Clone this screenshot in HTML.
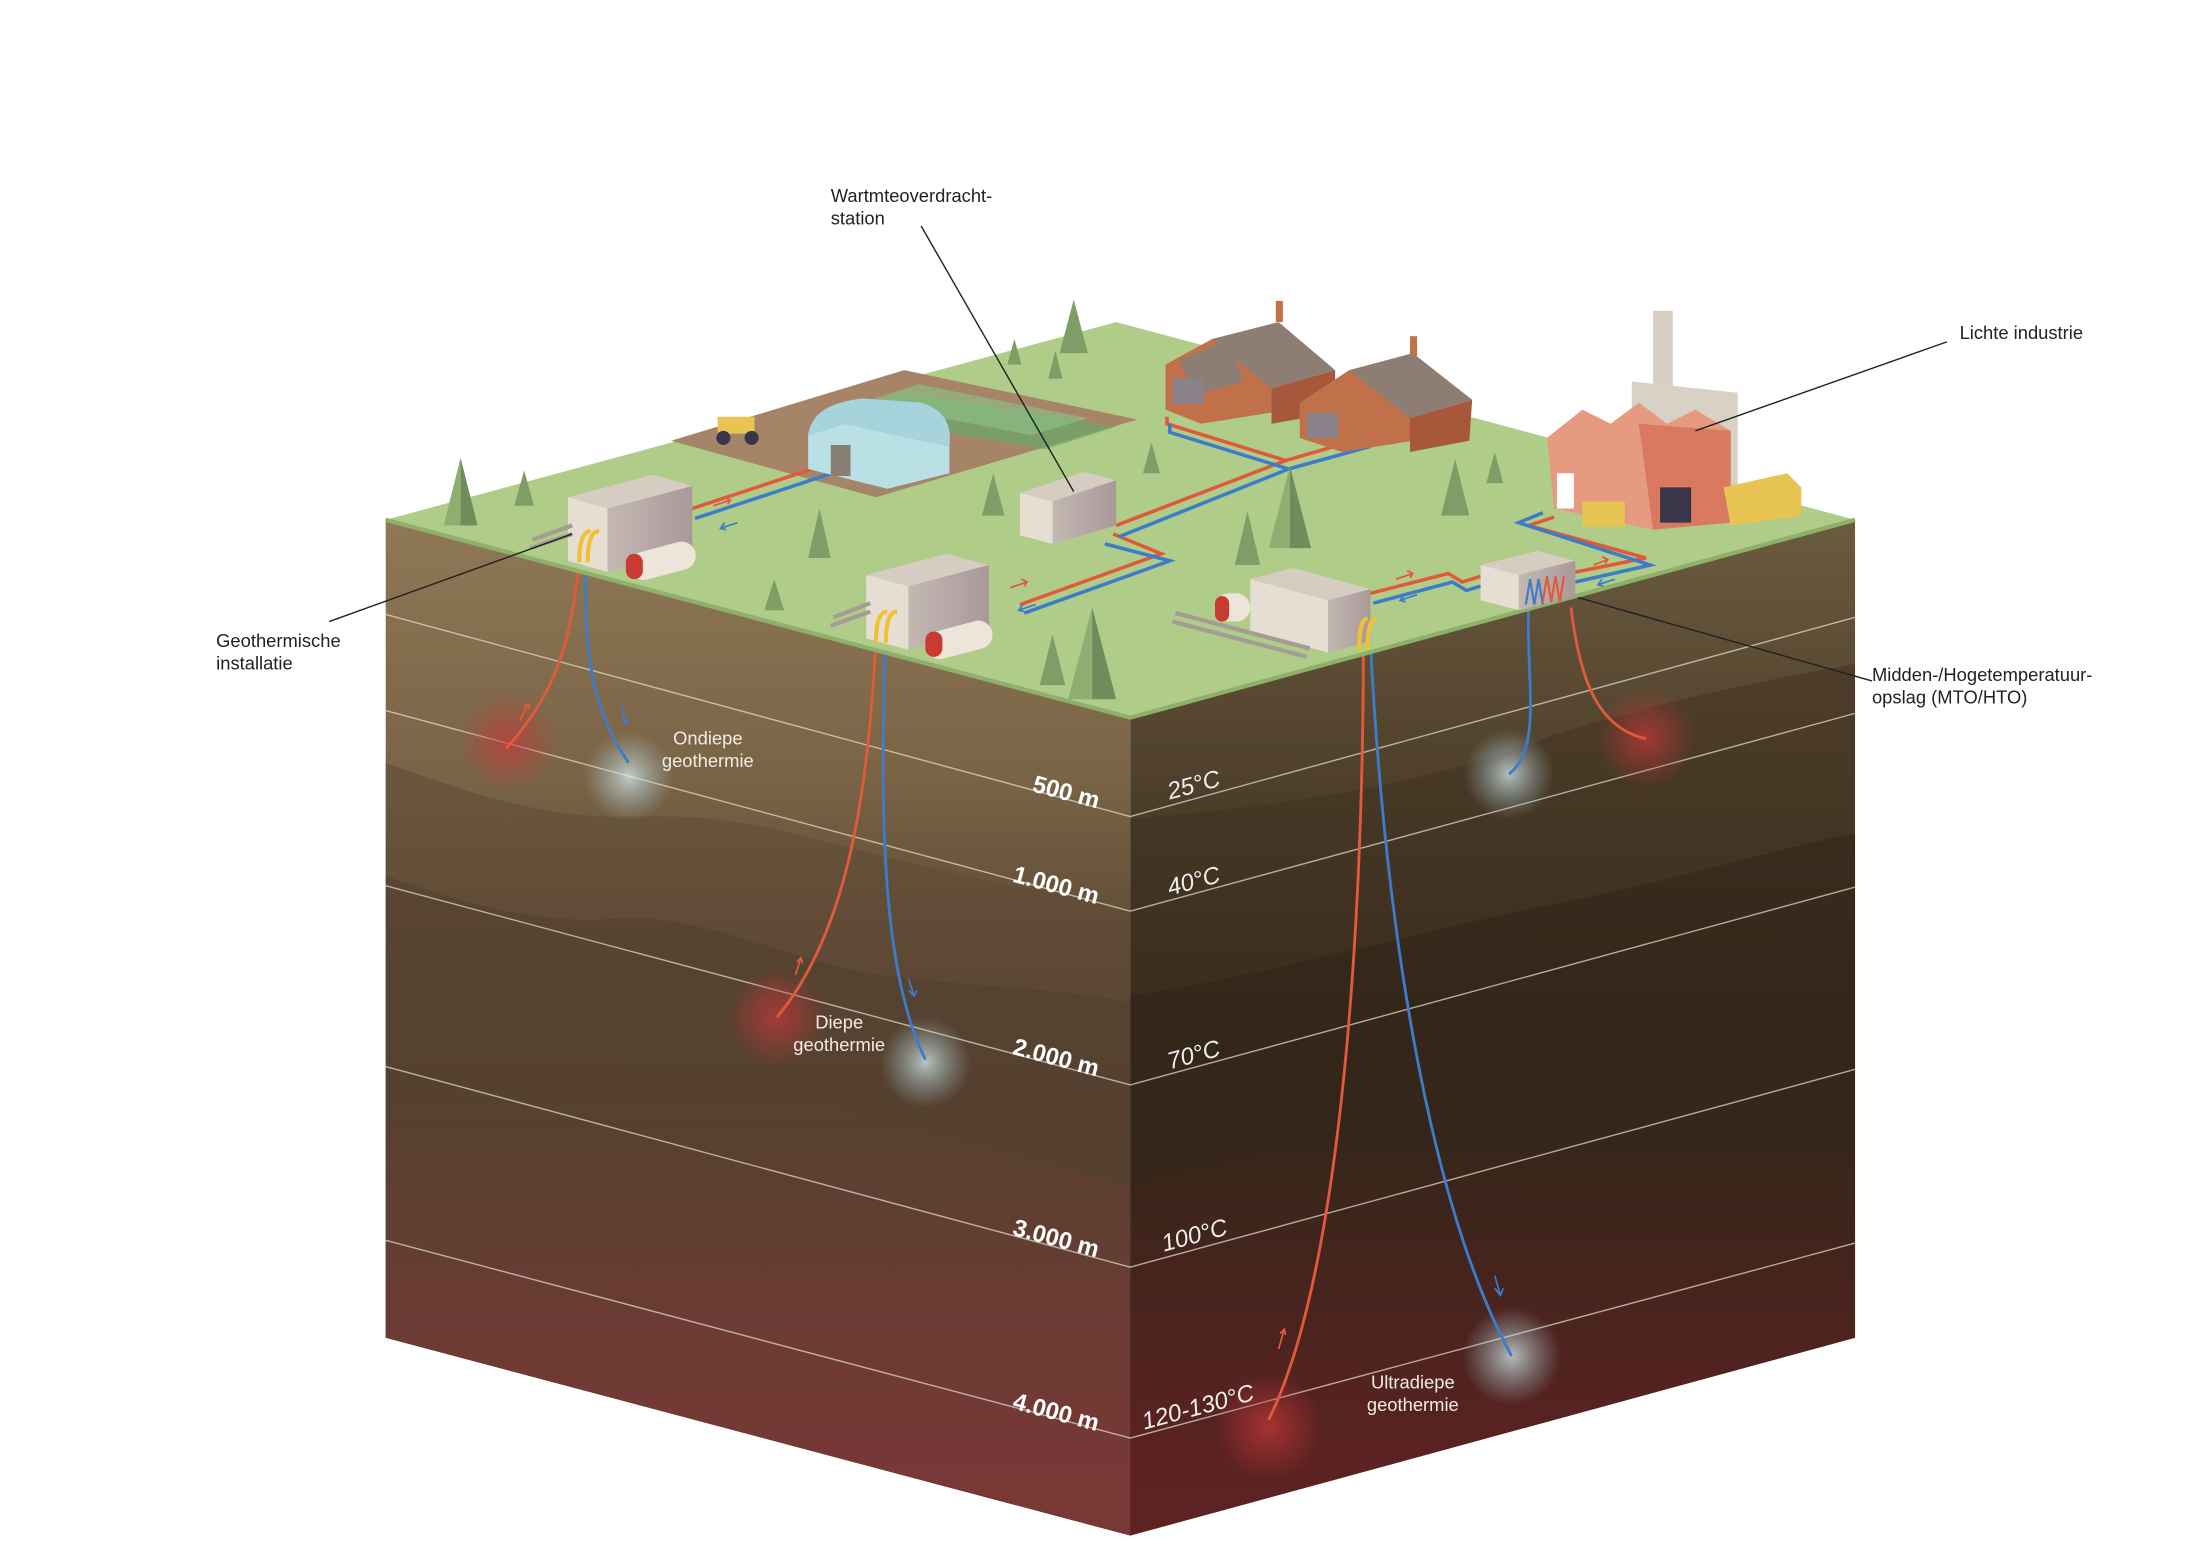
<!DOCTYPE html>
<html><head><meta charset="utf-8"><style>
html,body{margin:0;padding:0;background:#fff;}
svg{display:block;}
text{font-family:"Liberation Sans",sans-serif;}
</style></head><body>
<svg width="2204" height="1544" viewBox="0 0 1560 1093" preserveAspectRatio="none" xmlns="http://www.w3.org/2000/svg">
<defs>
<linearGradient id="lf" x1="0" y1="0" x2="0" y2="1">
<stop offset="0" stop-color="#8f7856"/><stop offset="0.25" stop-color="#7a6446"/><stop offset="0.45" stop-color="#5a4632"/><stop offset="0.7" stop-color="#5a4132"/><stop offset="1" stop-color="#7d3533"/></linearGradient>
<linearGradient id="rf" x1="0" y1="0" x2="0" y2="1">
<stop offset="0" stop-color="#6b5b3f"/><stop offset="0.3" stop-color="#4a3b28"/><stop offset="0.5" stop-color="#342618"/><stop offset="0.75" stop-color="#3c241b"/><stop offset="1" stop-color="#5e2121"/></linearGradient>
<linearGradient id="lred" gradientUnits="userSpaceOnUse" x1="0" y1="780" x2="0" y2="1040">
<stop offset="0" stop-color="#773836" stop-opacity="0"/><stop offset="1" stop-color="#773836" stop-opacity="1"/></linearGradient>
<linearGradient id="rred" gradientUnits="userSpaceOnUse" x1="0" y1="800" x2="0" y2="1060">
<stop offset="0" stop-color="#5e2222" stop-opacity="0"/><stop offset="1" stop-color="#5e2222" stop-opacity="1"/></linearGradient>
<linearGradient id="bx" x1="0" y1="0" x2="1" y2="0"><stop offset="0" stop-color="#c4b8b2"/><stop offset="1" stop-color="#a9999a"/></linearGradient>
<radialGradient id="gr"><stop offset="0" stop-color="#c8373a" stop-opacity="0.7"/><stop offset="1" stop-color="#c8373a" stop-opacity="0"/></radialGradient>
<radialGradient id="gb"><stop offset="0" stop-color="#d8eef2" stop-opacity="0.75"/><stop offset="1" stop-color="#9fc6d0" stop-opacity="0"/></radialGradient>
</defs>
<!-- faces -->
<polygon points="273,368 800,508 800,1087 273,947" fill="url(#lf)"/>
<polygon points="800,508 1313,368 1313,947 800,1087" fill="url(#rf)"/>
<path d="M273,540 C330,560 380,580 450,578 C520,576 560,590 620,605 C680,620 740,630 800,645 L800,1087 L273,947Z" fill="#5f4a36" opacity="0.55"/>
<path d="M273,620 C330,640 380,655 440,650 C500,648 560,680 620,690 C700,700 760,700 800,710 L800,1087 L273,947Z" fill="#4f3b2c" opacity="0.5"/>
<path d="M800,580 C900,570 1000,560 1100,520 C1200,490 1260,480 1313,470 L1313,947 L800,1087Z" fill="#3f3020" opacity="0.5"/>
<path d="M800,705 C900,690 1000,660 1100,640 C1200,620 1260,600 1313,590 L1313,947 L800,1087Z" fill="#2e2116" opacity="0.5"/>
<polygon points="273,700 800,840 800,1087 273,947" fill="url(#lred)"/>
<polygon points="800,840 1313,700 1313,947 800,1087" fill="url(#rred)"/>
<!-- depth lines -->
<g stroke="#e8e0d0" stroke-width="1" opacity="0.7" fill="none">
<polyline points="273,435 800,578 1313,437"/>
<polyline points="273,503 800,645 1313,505"/>
<polyline points="273,627 800,768 1313,628"/>
<polyline points="273,755 800,897 1313,757"/>
<polyline points="273,878 800,1018 1313,880"/>
</g>
<!-- glows -->
<circle cx="360" cy="525" r="35" fill="url(#gr)"/>
<circle cx="445" cy="550" r="32" fill="url(#gb)"/>
<circle cx="550" cy="720" r="35" fill="url(#gr)"/>
<circle cx="655" cy="752" r="32" fill="url(#gb)"/>
<circle cx="898" cy="1010" r="38" fill="url(#gr)"/>
<circle cx="1070" cy="960" r="35" fill="url(#gb)"/>
<circle cx="1068" cy="548" r="32" fill="url(#gb)"/>
<circle cx="1165" cy="522" r="35" fill="url(#gr)"/>
<!-- wells -->
<g fill="none" stroke-width="2">
<path d="M410,395 C405,450 395,490 358,530" stroke="#e25a3c"/>
<path d="M415,395 C412,460 420,505 445,540" stroke="#3d7cc9"/>
<path d="M620,450 C615,560 600,660 550,720" stroke="#e25a3c"/>
<path d="M627,450 C622,580 625,690 655,750" stroke="#3d7cc9"/>
<path d="M965,455 C965,650 950,900 898,1005" stroke="#e25a3c"/>
<path d="M970,455 C980,650 1010,850 1070,960" stroke="#3d7cc9"/>
<path d="M1082,430 C1080,480 1092,530 1068,548" stroke="#3d7cc9"/>
<path d="M1112,430 C1118,480 1130,515 1165,523" stroke="#e25a3c"/>
</g>
<g fill="none" stroke-width="1.2">
<path d="M368,510 l6,-12 M371,500 l3,-2 l1,4" stroke="#e25a3c"/>
<path d="M440,500 l3,12 M440,508 l3,4 l3,-3" stroke="#3d7cc9"/>
<path d="M563,690 l4,-12 M564,681 l3,-3 l1,4" stroke="#e25a3c"/>
<path d="M643,693 l4,12 M643,701 l4,4 l2,-4" stroke="#3d7cc9"/>
<path d="M905,955 l4,-14 M906,944 l3,-3 l1,4" stroke="#e25a3c"/>
<path d="M1058,903 l4,14 M1058,912 l4,5 l2,-5" stroke="#3d7cc9"/>
</g>
<!-- top -->
<polygon points="273,368 790,228 1313,368 800,508" fill="#afcc88"/>
<polyline points="273,368 800,508 1313,368" fill="none" stroke="#8fb06a" stroke-width="3"/>
<!-- field -->
<polygon points="475,312 640,262 805,297 620,352" fill="#a58468"/>
<g fill="#6aa86a">
<polygon points="590,293 640,278 790,302 740,318" opacity="0.7"/>
<polygon points="610,285 650,272 770,296 730,308" fill="#8cc58a" opacity="0.6"/>
</g>
<!-- pipes -->
<g fill="none" stroke-width="2.5">
<polyline points="490,360 605,322" stroke="#e2583a"/><polyline points="492,367 610,328" stroke="#3d7cc9"/>
<polyline points="788,378 822,392 722,428" stroke="#e2583a"/><polyline points="782,385 828,397 725,434" stroke="#3d7cc9"/>
<polyline points="790,372 910,326 826,300 826,295" stroke="#e2583a"/><polyline points="792,380 912,332 828,306 828,300" stroke="#3d7cc9"/>
<polyline points="910,326 965,310" stroke="#e2583a"/><polyline points="912,332 970,316" stroke="#3d7cc9"/>
<polyline points="970,420 1025,406 1035,412 1048,408" stroke="#e2583a"/><polyline points="972,427 1028,412 1038,418 1048,415" stroke="#3d7cc9"/>
<polyline points="1115,405 1165,395 1082,372 1100,366" stroke="#e2583a"/><polyline points="1115,412 1168,400 1075,370 1092,363" stroke="#3d7cc9"/>
</g>
<g fill="none" stroke-width="1.2">
<path d="M505,358 l12,-4 m-4,-2 l4,2 l-2,3" stroke="#e2583a"/><path d="M522,370 l-12,4 m3,-4 l-3,4 l4,1" stroke="#3d7cc9"/>
<path d="M715,416 l12,-4 m-4,-2 l4,2 l-2,3" stroke="#e2583a"/><path d="M733,428 l-12,4 m3,-4 l-3,4 l4,1" stroke="#3d7cc9"/>
<path d="M988,410 l12,-4 m-4,-2 l4,2 l-2,3" stroke="#e2583a"/><path d="M1003,421 l-12,4 m3,-4 l-3,4 l4,1" stroke="#3d7cc9"/>
<path d="M1128,400 l10,-4 m-4,-2 l4,2 l-2,3" stroke="#e2583a"/><path d="M1143,410 l-12,4 m3,-4 l-3,4 l4,1" stroke="#3d7cc9"/>
</g>
<!-- greenhouse -->
<polygon points="572,308 598,300 672,316 672,335 628,346 572,332" fill="#b9e0e5"/>
<path d="M572,308 C575,290 590,285 610,282 L652,285 C668,290 674,300 672,316 L598,300Z" fill="#a6d3dc"/>
<rect x="588" y="315" width="14" height="22" fill="#8a7f74"/>
<!-- tractor -->
<rect x="508" y="295" width="26" height="12" fill="#e8c552"/><circle cx="512" cy="310" r="5" fill="#3a3548"/><circle cx="532" cy="310" r="5" fill="#3a3548"/>
<!-- houses -->
<g>
<polygon points="825,258 858,240 900,256 900,292 850,300 825,290" fill="#c0714a"/>
<polygon points="858,240 905,228 945,262 900,275" fill="#8e7d73"/>
<polygon points="835,255 870,240 880,270 845,280" fill="#8e7d73"/>
<rect x="830" y="268" width="22" height="18" fill="#8a8288"/>
<polygon points="900,275 945,262 945,292 900,300" fill="#a8583a"/>
<polygon points="920,285 955,262 1000,278 1000,312 950,320 920,310" fill="#c0714a"/>
<polygon points="955,262 1000,250 1042,283 998,296" fill="#8e7d73"/>
<polygon points="998,296 1042,283 1040,312 998,320" fill="#a8583a"/>
<rect x="925" y="292" width="22" height="18" fill="#8a8288"/>
<rect x="903" y="213" width="5" height="15" fill="#c0714a"/><rect x="998" y="238" width="5" height="14" fill="#c0714a"/>
</g>
<!-- factory -->
<rect x="1170" y="220" width="14" height="60" fill="#d8d0c4"/>
<polygon points="1155,270 1230,278 1230,350 1155,345" fill="#d9d1c5"/>
<polygon points="1095,310 1120,290 1140,300 1160,285 1180,300 1200,290 1225,305 1225,370 1170,375 1100,360" fill="#e69a80"/>
<polygon points="1160,300 1225,305 1225,370 1170,375" fill="#d9795f"/>
<rect x="1102" y="335" width="12" height="25" fill="#fff"/>
<rect x="1175" y="345" width="22" height="25" fill="#3a3548"/>
<polygon points="1220,345 1265,335 1275,345 1275,365 1225,372" fill="#e8c552"/>
<rect x="1120" y="355" width="30" height="18" fill="#e8c552"/>
<!-- boxes -->
<g>
<polygon points="402,352 430,360 490,344 462,336" fill="#d6ccc2"/>
<polygon points="402,352 430,360 430,405 402,397" fill="#e6ded3"/>
<polygon points="430,360 490,344 490,389 430,405" fill="url(#bx)"/>
<polygon points="613,407 643,415 700,400 670,392" fill="#d6ccc2"/>
<polygon points="613,407 643,415 643,460 613,452" fill="#e6ded3"/>
<polygon points="643,415 700,400 700,445 643,460" fill="url(#bx)"/>
<polygon points="885,410 940,425 970,417 915,402" fill="#d6ccc2"/>
<polygon points="885,410 940,425 940,462 885,447" fill="#e6ded3"/>
<polygon points="940,425 970,417 970,454 940,462" fill="url(#bx)"/>
<polygon points="722,349 745,355 790,340 767,334" fill="#d6ccc2"/>
<polygon points="722,349 745,355 745,385 722,379" fill="#e6ded3"/>
<polygon points="745,355 790,340 790,372 745,385" fill="url(#bx)"/>
<polygon points="1048,400 1075,407 1115,397 1088,390" fill="#d6ccc2"/>
<polygon points="1048,400 1075,407 1075,432 1048,425" fill="#e6ded3"/>
<polygon points="1075,407 1115,397 1115,422 1075,432" fill="url(#bx)"/>
<path d="M1080,428 l3,-18 l3,18 l3,-18 l3,18" stroke="#3d7cc9" fill="none" stroke-width="1.5"/>
<path d="M1092,426 l3,-18 l3,18 l3,-18 l3,18 l3,-18" stroke="#e2583a" fill="none" stroke-width="1.5"/>
</g>
<!-- tanks -->
<g>
<rect x="445" y="387" width="48" height="20" rx="10" transform="rotate(-15 469 397)" fill="#ede5da"/>
<rect x="443" y="392" width="12" height="18" rx="6" fill="#c93a32"/>
<rect x="655" y="443" width="48" height="20" rx="10" transform="rotate(-15 679 453)" fill="#ede5da"/>
<rect x="655" y="447" width="12" height="18" rx="6" fill="#c93a32"/>
<rect x="860" y="420" width="25" height="20" rx="10" fill="#ede5da"/>
<rect x="860" y="422" width="10" height="18" rx="5" fill="#c93a32"/>
</g>
<g fill="none" stroke="#a59c95" stroke-width="3">
<path d="M375,388 l30,-10 M377,382 l28,-10"/><path d="M588,443 l28,-10 M590,437 l26,-10"/><path d="M830,440 l95,25 M832,434 l95,25"/>
</g>
<g fill="none" stroke="#f0c233" stroke-width="3"><path d="M410,398 q0,-22 8,-22 M416,398 q0,-22 8,-22"/><path d="M620,455 q0,-22 8,-22 M627,455 q0,-22 8,-22"/><path d="M962,460 q0,-22 6,-22 M968,460 q0,-22 6,-22"/></g>
<!-- trees -->
<g>
<path d="M326,324 L314,372 L326,372Z" fill="#8fae72"/><path d="M326,324 L338,372 L326,372Z" fill="#6f8d5a"/>
<path d="M371,333 L364,358 L378,358Z" fill="#7f9e67"/>
<path d="M580,360 L572,395 L588,395Z" fill="#7f9e67"/>
<path d="M548,410 L541,432 L555,432Z" fill="#7f9e67"/>
<path d="M703,335 L695,365 L711,365Z" fill="#7f9e67"/>
<path d="M760,212 L750,250 L770,250Z" fill="#7f9e67"/>
<path d="M747,248 L742,268 L752,268Z" fill="#7f9e67"/>
<path d="M718,240 L713,258 L723,258Z" fill="#7f9e67"/>
<path d="M815,313 L809,335 L821,335Z" fill="#7f9e67"/>
<path d="M913,330 L898,388 L913,388Z" fill="#8fae72"/><path d="M913,330 L928,388 L913,388Z" fill="#6f8d5a"/>
<path d="M883,362 L874,400 L892,400Z" fill="#7f9e67"/>
<path d="M1030,325 L1020,365 L1040,365Z" fill="#7f9e67"/>
<path d="M1058,320 L1052,342 L1064,342Z" fill="#7f9e67"/>
<path d="M773,430 L756,495 L773,495Z" fill="#8fae72"/><path d="M773,430 L790,495 L773,495Z" fill="#6f8d5a"/>
<path d="M745,449 L736,485 L754,485Z" fill="#7f9e67"/>
</g>
<!-- leader lines -->
<g stroke="#222" stroke-width="1" fill="none">
<line x1="233" y1="440" x2="405" y2="378"/>
<line x1="652" y1="160" x2="760" y2="348"/>
<line x1="1378" y1="242" x2="1200" y2="305"/>
<line x1="1325" y1="482" x2="1117" y2="423"/>
</g>
<!-- labels -->
<g font-size="13" fill="#222">
<text x="153" y="458">Geothermische</text><text x="153" y="474">installatie</text>
<text x="588" y="143">Wartmteoverdracht-</text><text x="588" y="159">station</text>
<text x="1387" y="240">Lichte industrie</text>
<text x="1325" y="482">Midden-/Hogetemperatuur-</text><text x="1325" y="498">opslag (MTO/HTO)</text>
</g>
<g font-size="13" fill="#f2ece4" text-anchor="middle">
<text x="501" y="527">Ondiepe</text><text x="501" y="543">geothermie</text>
<text x="594" y="728">Diepe</text><text x="594" y="744">geothermie</text>
<text x="1000" y="983">Ultradiepe</text><text x="1000" y="999">geothermie</text>
</g>
<g font-size="17" font-weight="bold" fill="#fff">
<text transform="translate(730,560) rotate(15)">500 m</text>
<text transform="translate(716,624) rotate(15)">1.000 m</text>
<text transform="translate(716,746) rotate(15)">2.000 m</text>
<text transform="translate(716,874) rotate(15)">3.000 m</text>
<text transform="translate(716,997) rotate(15)">4.000 m</text>
</g>
<g font-size="17" font-style="italic" fill="#eee">
<text transform="translate(828,566) rotate(-15)">25°C</text>
<text transform="translate(828,634) rotate(-15)">40°C</text>
<text transform="translate(828,757) rotate(-15)">70°C</text>
<text transform="translate(824,886) rotate(-15)">100°C</text>
<text transform="translate(810,1012) rotate(-15)">120-130°C</text>
</g>
</svg>
</body></html>
